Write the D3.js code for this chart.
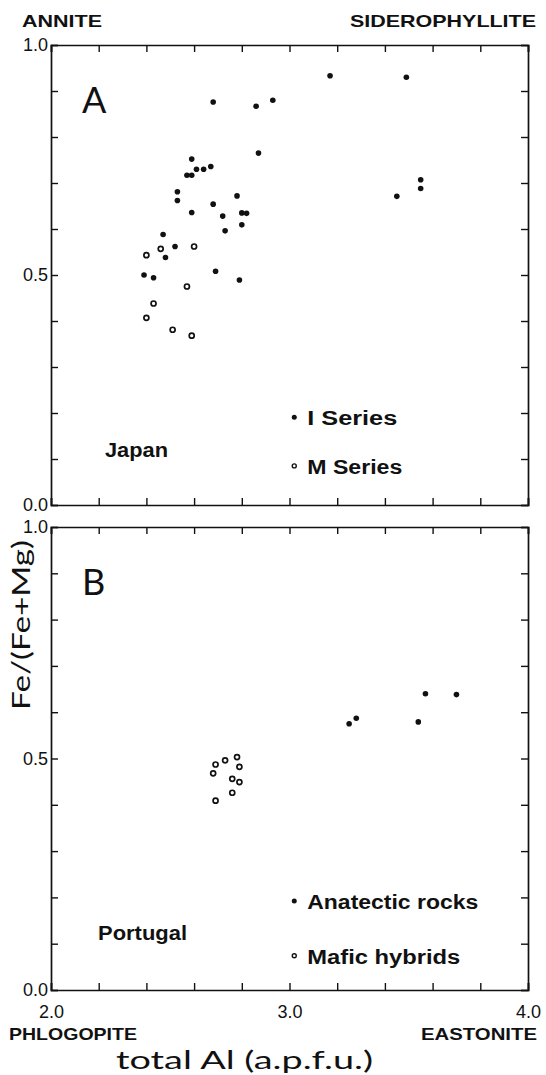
<!DOCTYPE html>
<html>
<head>
<meta charset="utf-8">
<script src="https://cdn.jsdelivr.net/npm/d3@7"></script>
<style>
  body { margin: 0; background: #fff; }
  svg { display: block; }
  .bold { font-family: "Liberation Sans", Arial, sans-serif; font-weight: bold; fill: #111; }
  .light { font-family: Lato, "Open Sans", sans-serif; font-weight: 400; fill: #111; }
</style>
</head>
<body>
<svg id="chart"></svg>
<script>
// tick values
const xTicks = [2.0, 2.2, 2.4, 2.6, 2.8, 3.0, 3.2, 3.4, 3.6, 3.8, 4.0];
const xTickLabels = { 2: "2.0", 3: "3.0", 4: "4.0" };
const yTicks = [0.0, 0.1, 0.2, 0.3, 0.4, 0.5, 0.6, 0.7, 0.8, 0.9, 1.0];
const yTickLabels = { 0: "0.0", 0.5: "0.5", 1: "1.0" };

// panel A - Japan  [total Al, Fe/(Fe+Mg)]
const japanI = [
  [2.68, 0.876], [2.86, 0.867], [2.93, 0.880], [3.17, 0.933], [3.49, 0.930],
  [2.87, 0.765], [2.59, 0.752], [2.61, 0.730], [2.64, 0.730], [2.67, 0.736],
  [2.57, 0.717], [2.59, 0.717], [2.53, 0.681], [2.53, 0.662], [2.59, 0.636],
  [2.68, 0.654], [2.78, 0.672], [2.72, 0.628], [2.80, 0.635], [2.82, 0.634],
  [2.73, 0.596], [2.80, 0.609], [2.47, 0.588], [2.52, 0.562], [2.48, 0.538],
  [2.39, 0.500], [2.43, 0.494], [2.69, 0.508], [2.79, 0.489],
  [3.55, 0.707], [3.55, 0.688], [3.45, 0.671]
];
const japanM = [
  [2.40, 0.543], [2.46, 0.557], [2.60, 0.562], [2.57, 0.475],
  [2.43, 0.438], [2.40, 0.407], [2.51, 0.381], [2.59, 0.368]
];

// panel B - Portugal
const portugalAnatectic = [
  [3.25, 0.575], [3.28, 0.587], [3.54, 0.579], [3.57, 0.640], [3.70, 0.638]
];
const portugalMafic = [
  [2.69, 0.487], [2.73, 0.496], [2.78, 0.503], [2.79, 0.482], [2.68, 0.468],
  [2.76, 0.456], [2.79, 0.449], [2.76, 0.426], [2.69, 0.409]
];

const WIDTH = 546;
const HEIGHT = 1075;
const LEFT = 51, RIGHT = 528;
const TICK = 7;

let svg = d3.select("#chart")
  .attr("width", WIDTH)
  .attr("height", HEIGHT);

let x = d3.scaleLinear().domain([2, 4]).range([LEFT, RIGHT]);

/**
 * Draw one framed panel with inward ticks on all sides
 */
function drawPanel(top, bottom, opts) {
  let y = d3.scaleLinear().domain([0, 1]).range([bottom, top]);
  let g = svg.append("g");

  let fmtY = d => yTickLabels[d] !== undefined ? yTickLabels[d] : "";

  g.append("g")
    .attr("transform", `translate(${LEFT},0)`)
    .call(d3.axisLeft(y).tickValues(yTicks).tickSize(-TICK).tickPadding(3).tickFormat(fmtY));
  g.append("g")
    .attr("transform", `translate(${RIGHT},0)`)
    .call(d3.axisRight(y).tickValues(yTicks).tickSize(-TICK).tickFormat(""));
  g.append("g")
    .attr("transform", `translate(0,${top})`)
    .call(d3.axisTop(x).tickValues(xTicks).tickSize(-TICK).tickFormat(""));
  g.append("g")
    .attr("transform", `translate(0,${bottom})`)
    .call(d3.axisBottom(x).tickValues(xTicks).tickSize(-TICK).tickPadding(15)
      .tickFormat(d => opts.xLabels ? (xTickLabels[d] || "") : ""));

  g.selectAll(".domain").attr("stroke", "#111").attr("stroke-width", 1.7);
  g.selectAll(".tick line").attr("stroke", "#111").attr("stroke-width", 1.4);
  g.selectAll(".tick text")
    .attr("font-family", "'Liberation Sans', Arial, sans-serif")
    .attr("font-size", 18)
    .attr("fill", "#111");

  // panel letter
  g.append("text")
    .attr("class", "light")
    .attr("x", x(2.13))
    .attr("y", y(0.89) + 17)
    .style("font-size", "36px")
    .text(opts.letter);

  // filled points
  g.selectAll("circle.filled")
    .data(opts.filled)
    .enter()
    .append("circle")
      .attr("class", "filled")
      .attr("cx", d => x(d[0]))
      .attr("cy", d => y(d[1]))
      .attr("r", 2.8)
      .attr("fill", "#111");

  // open points
  g.selectAll("circle.open")
    .data(opts.open)
    .enter()
    .append("circle")
      .attr("class", "open")
      .attr("cx", d => x(d[0]))
      .attr("cy", d => y(d[1]))
      .attr("r", 2.5)
      .attr("fill", "#fff")
      .attr("stroke", "#111")
      .attr("stroke-width", 1.7);

  // legend
  opts.legend.forEach(function(item) {
    let cy = y(item.y);
    g.append("circle")
      .attr("cx", x(3.02))
      .attr("cy", cy)
      .attr("r", item.filled ? 2.5 : 2.0)
      .attr("fill", item.filled ? "#111" : "#fff")
      .attr("stroke", "#111")
      .attr("stroke-width", item.filled ? 0 : 1.4);
    g.append("text")
      .attr("class", "bold")
      .attr("x", x(3.02) + 13)
      .attr("y", cy + 8)
      .attr("textLength", item.w)
      .attr("lengthAdjust", "spacingAndGlyphs")
      .style("font-size", "20px")
      .text(item.label);
  });

  // region name
  g.append("text")
    .attr("class", "bold")
    .attr("x", opts.region.x)
    .attr("y", y(opts.region.y))
    .attr("textLength", opts.region.w)
    .attr("lengthAdjust", "spacingAndGlyphs")
    .style("font-size", "20px")
    .text(opts.region.label);

  return y;
}

drawPanel(45, 505, {
  letter: "A",
  xLabels: false,
  filled: japanI,
  open: japanM,
  legend: [
    { label: "I Series", y: 0.191, filled: true, w: 90 },
    { label: "M Series", y: 0.085, filled: false, w: 95 }
  ],
  region: { label: "Japan", x: 105, y: 0.104, w: 63 }
});

drawPanel(527, 990, {
  letter: "B",
  xLabels: true,
  filled: portugalAnatectic,
  open: portugalMafic,
  legend: [
    { label: "Anatectic rocks", y: 0.192, filled: true, w: 171 },
    { label: "Mafic hybrids", y: 0.074, filled: false, w: 153 }
  ],
  region: { label: "Portugal", x: 98, y: 0.108, w: 89 }
});

// end-member labels
function endLabel(text, xPos, yPos, w) {
  svg.append("text")
    .attr("class", "bold")
    .attr("x", xPos)
    .attr("y", yPos)
    .attr("textLength", w)
    .attr("lengthAdjust", "spacingAndGlyphs")
    .style("font-size", "17px")
    .text(text);
}
endLabel("ANNITE", 22, 27, 80);
endLabel("SIDEROPHYLLITE", 350, 27, 186);
endLabel("PHLOGOPITE", 9, 1040, 128);
endLabel("EASTONITE", 421, 1040, 116);

// axis titles
svg.append("text")
  .attr("class", "light")
  .attr("x", 116)
  .attr("y", 1069)
  .attr("textLength", 257)
  .attr("lengthAdjust", "spacingAndGlyphs")
  .style("font-size", "25px")
  .text("total Al (a.p.f.u.)");

svg.append("text")
  .attr("class", "light")
  .attr("transform", "translate(30,625) rotate(-90)")
  .attr("text-anchor", "middle")
  .attr("textLength", 170)
  .attr("lengthAdjust", "spacingAndGlyphs")
  .style("font-size", "25px")
  .text("Fe/(Fe+Mg)");
</script>
</body>
</html>
